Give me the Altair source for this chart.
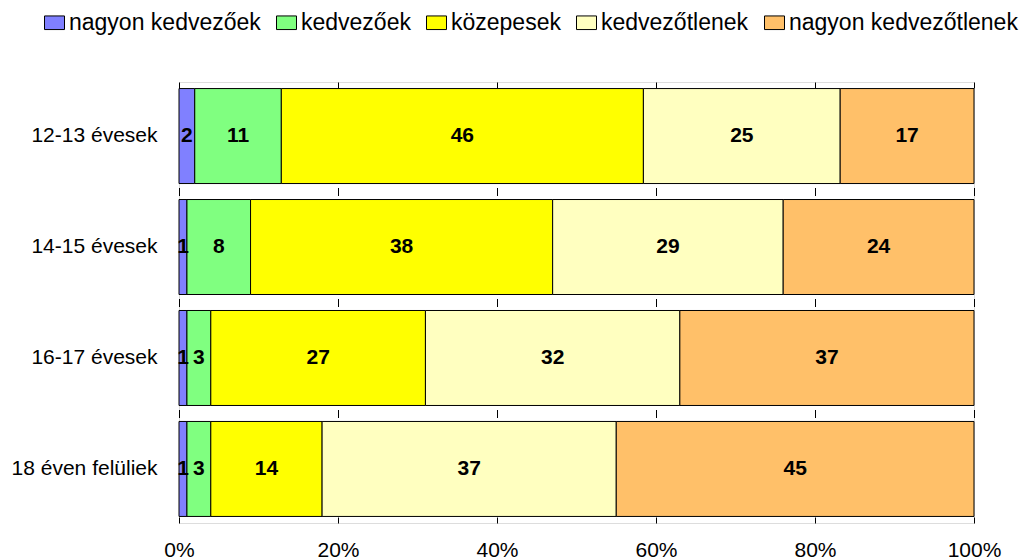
import altair as alt
import pandas as pd

categories = ["12-13 évesek", "14-15 évesek", "16-17 évesek", "18 éven felüliek"]
series = ["nagyon kedvezőek", "kedvezőek", "közepesek", "kedvezőtlenek", "nagyon kedvezőtlenek"]
colors = ["#8080FF", "#80FF80", "#FFFF00", "#FFFFC0", "#FFC069"]

values = {
    "nagyon kedvezőek": [2, 1, 1, 1],
    "kedvezőek": [11, 8, 3, 3],
    "közepesek": [46, 38, 27, 14],
    "kedvezőtlenek": [25, 29, 32, 37],
    "nagyon kedvezőtlenek": [17, 24, 37, 45],
}
x_ticks = [0, 0.2, 0.4, 0.6, 0.8, 1.0]

rows = []
for si, s in enumerate(series):
    for ci, c in enumerate(categories):
        rows.append({"cat": c, "series": s, "order": si, "value": values[s][ci]})
df = pd.DataFrame(rows)

FONT = "Liberation Sans"

base = alt.Chart(df).transform_stack(
    stack="value", as_=["v0", "v1"], groupby=["cat"],
    sort=[alt.SortField("order", order="ascending")], offset="normalize"
).transform_calculate(mid="(datum.v0 + datum.v1) / 2")

y_enc = alt.Y("cat:N", sort=categories, title=None,
              scale=alt.Scale(paddingInner=0.144, paddingOuter=0.059),
              axis=alt.Axis(ticks=False, domain=False, labelFontSize=21, labelFont=FONT,
                            labelColor="black", labelPadding=22))

bars = base.mark_bar(stroke="black", strokeWidth=1, opacity=1).encode(
    x=alt.X("v0:Q", scale=alt.Scale(domain=[0, 1], nice=False), title=None,
            axis=alt.Axis(values=x_ticks, format="%", ticks=False, domain=False,
                          labelFlush=False,
                          labelFontSize=21, labelFont=FONT, labelColor="black", labelPadding=16,
                          grid=True, gridColor="black", gridWidth=1, gridOpacity=1,
                          gridDash=[6, 99.5, 8, 103, 8, 103, 8, 99.5, 6])),
    x2="v1:Q",
    y=y_enc,
    color=alt.Color("series:N", sort=series,
                    scale=alt.Scale(domain=series, range=colors),
                    legend=alt.Legend(title=None, orient="none", direction="horizontal",
                                      legendX=-133, legendY=-71,
                                      symbolType="M-1.3,-0.68L0.7,-0.68L0.7,0.68L-1.3,0.68Z",
                                      symbolSize=400,
                                      symbolStrokeColor="black", symbolStrokeWidth=1,
                                      symbolOpacity=1,
                                      labelFontSize=23, labelFont=FONT, labelColor="black",
                                      labelOffset=0, columnPadding=13, labelLimit=400)),
    order=alt.Order("order:Q"),
)

labels = base.mark_text(fontWeight="bold", fontSize=21, font=FONT, color="black",
                        baseline="middle", align="center").encode(
    x=alt.X("mid:Q"),
    y=alt.Y("cat:N", sort=categories),
    text=alt.Text("value:Q"),
)

chart = alt.layer(bars, labels).properties(
    width=795, height=441,
    autosize=alt.AutoSizeParams(type="none"),
    padding={"left": 171, "top": 74, "right": 47, "bottom": 36},
).configure_view(stroke="black", strokeWidth=1).configure(background="white")

chart.save("out.html", embed_options={"renderer": "svg", "actions": False})
